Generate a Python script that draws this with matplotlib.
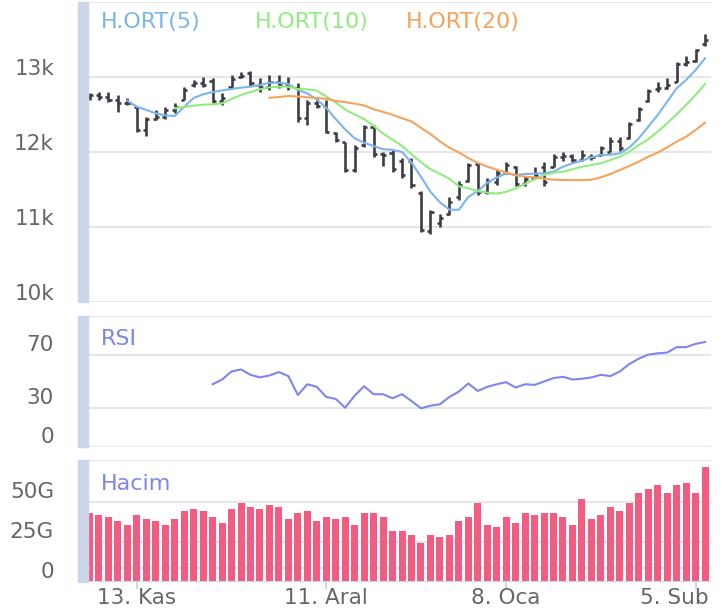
import matplotlib.pyplot as plt
from matplotlib.patches import Rectangle
from matplotlib.transforms import blended_transform_factory
import numpy as np

# --- data (one bar per trading day) ---
opens = [12740, 12760, 12740, 12700, 12650, 12600, 12300, 12440, 12470, 12560,
         12700, 12890, 12920, 12950, 12680, 12870, 13000, 13050, 12900, 12870,
         12930, 12900, 12850, 12450, 12650, 12620, 12260, 12140, 11760, 12100,
         12330, 11970, 11990, 11880, 11880, 11450, 10950, 11050, 11180, 11400,
         11620, 11840, 11470, 11600, 11720, 11800, 11580, 11650, 11800, 11800,
         11930, 11950, 11900, 11930, 11960, 12000, 12150, 12190, 12430, 12680,
         12840, 12860, 12940, 13180, 13210, 13440]
highs = [12782, 12804, 12804, 12760, 12716, 12604, 12471, 12560, 12604, 12658,
         12871, 12960, 13004, 12982, 12782, 13027, 13071, 13084, 12982, 13027,
         13027, 13004, 12924, 12693, 12716, 12693, 12271, 12140, 12093, 12360,
         12360, 12004, 12027, 11916, 11916, 11484, 11230, 11173, 11396, 11618,
         11849, 11849, 11649, 11760, 11862, 11818, 11684, 11796, 11862, 11973,
         11996, 11973, 12027, 11973, 12084, 12196, 12196, 12396, 12596, 12840,
         12929, 12987, 13196, 13284, 13373, 13573]
lows = [12693, 12693, 12671, 12538, 12627, 12271, 12213, 12427, 12436, 12524,
        12693, 12871, 12871, 12649, 12627, 12849, 12982, 12880, 12804, 12827,
        12849, 12827, 12404, 12360, 12582, 12249, 12138, 11738, 11738, 12071,
        11938, 11813, 11738, 11649, 11516, 10929, 10907, 11004, 11160, 11360,
        11596, 11427, 11440, 11560, 11707, 11551, 11551, 11640, 11551, 11796,
        11884, 11862, 11884, 11893, 11951, 11996, 12018, 12173, 12418, 12662,
        12796, 12840, 12929, 13151, 13196, 13418]
closes = [12760, 12740, 12700, 12650, 12660, 12300, 12440, 12470, 12560, 12600,
          12830, 12920, 12900, 12680, 12720, 12980, 13020, 12920, 12870, 12930,
          12900, 12880, 12450, 12650, 12620, 12270, 12160, 11760, 12060, 12330,
          11970, 11960, 11780, 11700, 11560, 10960, 11200, 11120, 11330, 11560,
          11830, 11470, 11620, 11720, 11830, 11580, 11640, 11700, 11600, 11930,
          11950, 11890, 11960, 11940, 12050, 12150, 12060, 12380, 12580, 12820,
          12860, 12900, 13180, 13200, 13360, 13500]

ma5 = [np.nan] * 4 + [
    12684, 12604, 12560, 12516, 12489, 12480, 12604, 12720, 12769, 12800,
    12822, 12840, 12858, 12871, 12893, 12924, 12924, 12907, 12827, 12782,
    12700, 12590, 12440, 12300, 12182, 12124, 12080, 12036, 12030, 12000,
    11860, 11670, 11470, 11330, 11230, 11230, 11400, 11480, 11590, 11660,
    11716, 11693, 11707, 11711, 11716, 11738, 11804, 11849, 11884, 11929,
    11960, 11964, 11982, 12058, 12182, 12338, 12493, 12671, 12849, 12960,
    13093, 13249]
ma10 = [np.nan] * 9 + [
    12582, 12600, 12618, 12631, 12636, 12649, 12707, 12760, 12800, 12836,
    12862, 12871, 12871, 12840, 12836, 12818, 12742, 12660, 12566, 12500,
    12438, 12349, 12245, 12164, 12082, 11971, 11865, 11771, 11709, 11645,
    11543, 11516, 11478, 11458, 11445, 11469, 11516, 11573, 11636, 11693,
    11724, 11738, 11769, 11804, 11827, 11849, 11893, 11938, 12004, 12093,
    12169, 12271, 12382, 12502, 12627, 12760, 12907]
ma20 = [np.nan] * 19 + [
    12724, 12733, 12747, 12740, 12729, 12720, 12710, 12680, 12665, 12645,
    12620, 12570, 12535, 12495, 12450, 12408, 12322, 12238, 12142, 12058,
    11995, 11920, 11855, 11805, 11765, 11727, 11689, 11671, 11662, 11644,
    11631, 11627, 11625, 11625, 11631, 11662, 11707, 11760, 11813, 11871,
    11938, 11991, 12062, 12138, 12204, 12293, 12391]

rsi = [np.nan] * 13 + [
    47.9, 51.5, 57.7, 59.2, 55.1, 53.1, 54.6, 57.2, 54.1, 39.7,
    47.9, 45.9, 38.2, 36.7, 30.0, 39.2, 46.4, 40.3, 40.3, 37.2,
    40.3, 35.1, 29.5, 31.5, 32.6, 38.2, 42.3, 48.5, 42.8, 45.9,
    47.9, 49.5, 45.4, 47.9, 47.4, 50.0, 52.6, 53.6, 51.5, 52.1,
    53.1, 55.1, 54.1, 57.7, 63.3, 67.4, 70.5, 71.5, 72.1, 76.2,
    76.2, 78.7, 80.2]

# volume in G (billions)
volume = [43.1, 41.9, 40.6, 38.1, 35.6, 41.9, 39.4, 38.1, 35.6, 39.4,
          44.4, 45.6, 44.4, 40.6, 36.9, 45.6, 49.4, 46.9, 45.6, 48.1,
          46.9, 39.4, 43.1, 44.4, 38.1, 40.6, 39.4, 40.6, 35.6, 43.1,
          43.1, 40.6, 31.9, 31.9, 29.4, 24.4, 29.4, 28.1, 29.4, 38.1,
          40.6, 49.4, 35.6, 34.4, 40.6, 36.9, 43.1, 41.9, 43.1, 43.1,
          40.6, 35.6, 51.9, 39.4, 41.9, 46.9, 44.4, 49.4, 55.6, 58.1,
          60.6, 55.6, 60.6, 61.9, 55.6, 71.9]

x_tick_pos = [5, 25, 44, 64]
x_tick_labels = ['13. Kas', '11. Aral', '8. Oca', '5. Sub']
price_ticks = [10000, 11000, 12000, 13000]
price_labels = ['10k', '11k', '12k', '13k']
rsi_ticks = [0, 30, 70]
vol_ticks = [0, 25, 50]
vol_labels = ['0', '25G', '50G']

# --- layout (pixels) ---
W, H = 722, 614
X0, X1 = 88, 711
XMIN, XMAX = -0.16, 65.63
GRID = '#e6e6e6'
LABEL = '#666666'
STRIP = '#ccd6eb'
FS_TICK = 15.5
FS_TITLE = 16

plt.rcParams['font.family'] = ['DejaVu Sans']
fig = plt.figure(figsize=(W / 100, H / 100), dpi=100)
fig.patch.set_facecolor('white')

x = np.arange(len(closes))


def panel(top, bottom, ymin, ymax):
    ax = fig.add_axes([X0 / W, 1 - bottom / H, (X1 - X0) / W, (bottom - top) / H])
    ax.set_xlim(XMIN, XMAX)
    ax.set_ylim(ymin, ymax)
    ax.axis('off')
    fig.patches.append(Rectangle((78 / W, 1 - bottom / H), 10 / W, (bottom - top) / H,
                                 transform=fig.transFigure, color=STRIP, zorder=0))
    return ax


def ylabels(ax, ticks, labels, dy=3):
    for t, s in zip(ticks, labels):
        ax.annotate(s, xy=(54 / W, t), xycoords=(fig.transFigure, ax.transData),
                    xytext=(0, dy), textcoords='offset pixels',
                    ha='right', va='baseline', fontsize=FS_TICK, color=LABEL)


# price panel
ax1 = panel(2, 302, 10000, 14000)
for g in [10000, 11000, 12000, 13000, 14000]:
    ax1.axhline(g, color=GRID, lw=1.5, zorder=1)
ax1.vlines(x, lows, highs, color='#3d3d45', lw=1.9, zorder=2)
ax1.hlines(opens, x - 0.33, x, color='#3d3d45', lw=1.9, zorder=2)
ax1.hlines(closes, x, x + 0.33, color='#3d3d45', lw=1.9, zorder=2)
ax1.plot(x, ma5, color='#7cb5ec', lw=1.5, zorder=3)
ax1.plot(x, ma10, color='#90ed7d', lw=1.5, zorder=3)
ax1.plot(x, ma20, color='#f7a35c', lw=1.5, zorder=3)
ylabels(ax1, price_ticks, price_labels, dy=2)
fig.text(101 / W, 1 - 22 / H, 'H.ORT(5)', color='#7cb5ec', fontsize=FS_TITLE, va='center')
fig.text(255 / W, 1 - 22 / H, 'H.ORT(10)', color='#90ed7d', fontsize=FS_TITLE, va='center')
fig.text(406 / W, 1 - 22 / H, 'H.ORT(20)', color='#f7a35c', fontsize=FS_TITLE, va='center')

# RSI panel
ax2 = panel(316, 447, 0, 100)
for g in [0, 30, 70, 100]:
    ax2.axhline(g, color=GRID, lw=1.5, zorder=1)
ax2.plot(x, rsi, color='#8085e9', lw=1.5, zorder=3)
ylabels(ax2, rsi_ticks, [str(t) for t in rsi_ticks], dy=4)
fig.text(101 / W, 1 - 339 / H, 'RSI', color='#8085e9', fontsize=FS_TITLE, va='center')

# volume panel
ax3 = panel(460, 582, 0, 76.25)
for g in [25, 50, 76.25]:
    ax3.axhline(g, color=GRID, lw=1.5, zorder=1)
ax3.axhline(8.75, color='#dde3f0', lw=1.5, zorder=1)
ax3.bar(x, volume, width=0.74, color='#f15c80', zorder=2)
ax3.axhline(0, color=STRIP, lw=1.5, zorder=3)
ylabels(ax3, vol_ticks, vol_labels, dy=4)
fig.text(101 / W, 1 - 484 / H, 'Hacim', color='#8085e9', fontsize=FS_TITLE, va='center')

# x axis ticks and labels
tr = blended_transform_factory(ax3.transData, fig.transFigure)
for i, (p, s) in enumerate(zip(x_tick_pos, x_tick_labels)):
    ax3.plot([p, p], [1 - 582 / H, 1 - 588 / H], color=STRIP, lw=1.5,
             transform=tr, clip_on=False)
    if i == len(x_tick_pos) - 1:
        fig.text(709 / W, 1 - 598 / H, s, ha='right', va='center',
                 fontsize=FS_TICK, color=LABEL)
    else:
        ax3.text(p, 1 - 598 / H, s, transform=tr, ha='center', va='center',
                 fontsize=FS_TICK, color=LABEL)

fig.savefig('out.png', dpi=100, facecolor='white')
